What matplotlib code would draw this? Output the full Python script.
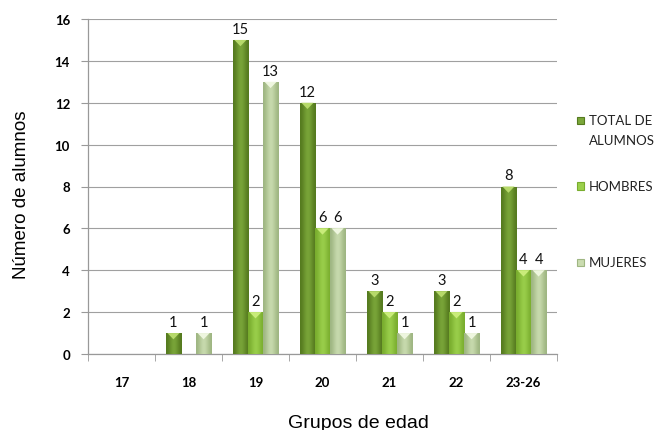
import matplotlib
matplotlib.use("Agg")
import matplotlib.pyplot as plt
import numpy as np
from matplotlib.patches import Rectangle, Polygon
from matplotlib.colors import LinearSegmentedColormap

categories = ["17", "18", "19", "20", "21", "22", "23-26"]
series_names = ["TOTAL DE\nALUMNOS", "HOMBRES", "MUJERES"]
total = [0, 1, 15, 12, 3, 3, 8]
hombres = [0, 0, 2, 6, 2, 2, 4]
mujeres = [0, 1, 13, 6, 1, 1, 4]
y_ticks = [0, 2, 4, 6, 8, 10, 12, 14, 16]

series = [total, hombres, mujeres]
# (edge, centre, top highlight)
palettes = [
    ("#557a1f", "#7ba73a", "#b6d96a"),
    ("#79ad2e", "#9bd04c", "#c9ec7a"),
    ("#9fb682", "#cadcb0", "#eef6df"),
]

fig = plt.figure(figsize=(6.65, 4.31), dpi=100)
ax = fig.add_axes([88/665, 1-355/431, (557-88)/665, (355-20)/431])

x = np.arange(len(categories))
bw = 0.225
offsets = [-bw, 0, bw]

grad = np.array([[0.0, 0.35, 0.75, 1.0, 0.75, 0.35, 0.0]])
for vals, off, (ec, cc, hc) in zip(series, offsets, palettes):
    bars = ax.bar(x + off, vals, width=bw, color=cc, linewidth=0, zorder=2)
    cmap = LinearSegmentedColormap.from_list("g", [ec, cc])
    for b, v in zip(bars, vals):
        if v <= 0:
            continue
        bx, by = b.get_x(), b.get_y()
        w, h = b.get_width(), b.get_height()
        im = ax.imshow(grad, cmap=cmap, extent=[bx, bx + w, by, by + h],
                       aspect="auto", zorder=3, interpolation="bicubic")
        im.set_clip_path(b)
        tri = Polygon([[bx + w*0.1, by + h], [bx + w*0.9, by + h],
                       [bx + w/2, by + h - 0.3]], closed=True,
                      facecolor=hc, edgecolor="none", zorder=4)
        ax.add_patch(tri)
        ax.text(bx + w/2, by + h + 0.2, str(v), ha="center", va="bottom",
                fontsize=10.5, family="Lato", color="#111111", zorder=5)

ax.set_xlim(-0.5, len(categories) - 0.5)
ax.set_ylim(0, 16)
ax.set_yticks(y_ticks)
ax.set_yticklabels([str(t) for t in y_ticks], fontsize=9.5, family="Lato",
                   fontweight="bold")
ax.set_xticks(x)
ax.set_xticklabels(categories, fontsize=9.5, family="Lato", fontweight="bold")
ax.set_xticks(np.arange(len(categories) + 1) - 0.5, minor=True)
ax.tick_params(axis="x", which="major", length=0, pad=16)
ax.tick_params(axis="x", which="minor", length=5, color="#999999")
ax.tick_params(axis="y", length=5, color="#999999", pad=8)

ax.grid(axis="y", color="#a0a0a0", linewidth=0.8, zorder=0)
ax.set_axisbelow(True)
for s in ["top", "right"]:
    ax.spines[s].set_visible(False)
for s in ["left", "bottom"]:
    ax.spines[s].set_color("#999999")
    ax.spines[s].set_linewidth(0.9)

fig.text(22/665, 1-195/431, "Número de alumnos", fontsize=13.5,
         family="Liberation Sans", rotation=90, ha="center", va="center")
fig.text(358/665, 1-424/431, "Grupos de edad", fontsize=14,
         family="Liberation Sans", ha="center", va="center")

# legend
leg_y = [121, 187, 263]
for name, (ec, cc, hc), yy in zip(series_names, palettes, leg_y):
    fy = 1 - yy/431
    fig.patches.append(Rectangle((577/665, fy - 3.5/431), 7/665, 7/431,
                                 transform=fig.transFigure, facecolor=cc,
                                 edgecolor=ec, linewidth=0.8))
    lines = name.split("\n")
    for i, ln in enumerate(lines):
        fig.text(589/665, fy - i*20/431, ln, fontsize=9.5, family="Lato",
                 va="center", ha="left", color="#222222")

fig.savefig("out.png", dpi=100)
